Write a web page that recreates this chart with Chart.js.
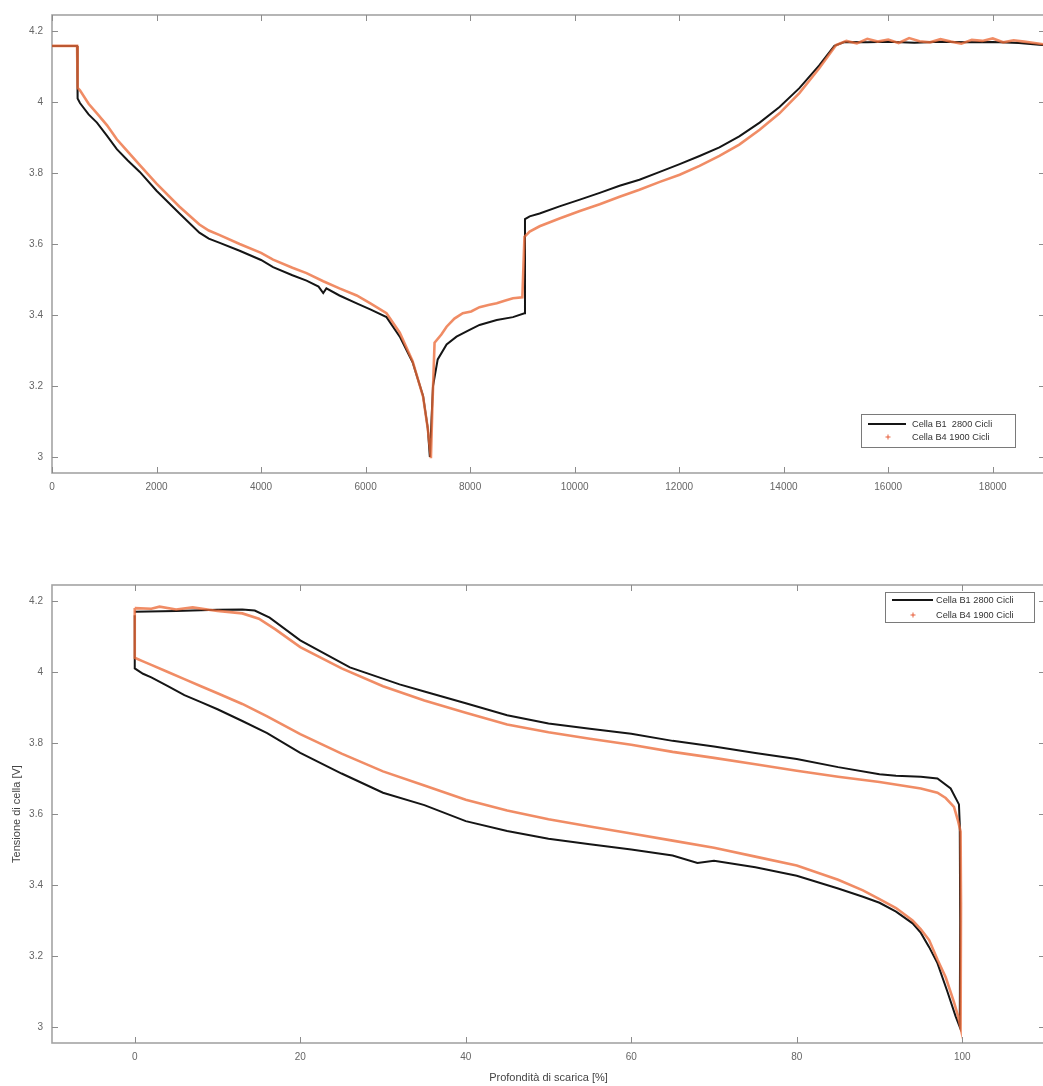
<!DOCTYPE html>
<html><head><meta charset="utf-8">
<script src="https://cdn.jsdelivr.net/npm/chart.js@4.4.1/dist/chart.umd.min.js"></script>
<style>
html,body{margin:0;padding:0;background:#fff;overflow:hidden;width:1043px;height:1086px;}
#w1{position:absolute;left:0;top:0;width:1050px;height:500px;}
#w2{position:absolute;left:0;top:570px;width:1050px;height:516px;}
</style></head><body>
<div id="w1"><canvas id="c1"></canvas></div>
<div id="w2"><canvas id="c2"></canvas></div>
<script>
// ---------- DATA: top chart (time [s] vs voltage [V]) ----------
const timeB1 = [0,480,490,535,700,860,1050,1240,1450,1680,2000,2440,2820,3000,3210,3590,4000,4230,4600,4870,5100,5190,5250,5500,5830,6100,6400,6654,6900,7100,7190,7230,7260,7290,7380,7550,7740,7990,8180,8510,8820,9040,9050,9140,9330,9710,10100,10480,10860,11240,11630,12010,12390,12770,13150,13540,13920,14300,14680,14970,15160,15600,16000,16500,17000,17500,18000,18500,19000];
const voltB1 = [4.158,4.158,4.01,3.997,3.965,3.942,3.905,3.867,3.835,3.803,3.75,3.686,3.632,3.615,3.603,3.581,3.555,3.535,3.512,3.497,3.48,3.462,3.475,3.455,3.433,3.415,3.394,3.339,3.267,3.172,3.081,3.0,3.1,3.2,3.275,3.317,3.339,3.358,3.372,3.386,3.394,3.405,3.67,3.678,3.686,3.706,3.725,3.744,3.764,3.781,3.803,3.825,3.848,3.872,3.903,3.942,3.986,4.039,4.103,4.158,4.169,4.168,4.17,4.167,4.17,4.168,4.169,4.166,4.16];
const timeB4 = [0,480,490,535,700,860,1050,1240,1450,1680,2000,2440,2820,3000,3210,3590,4000,4230,4600,4870,5190,5500,5830,6100,6400,6654,6900,7100,7190,7250,7280,7320,7450,7550,7700,7860,8020,8180,8350,8510,8660,8820,9000,9040,9140,9330,9710,10100,10480,10860,11240,11630,12010,12390,12770,13150,13540,13920,14300,14680,15000,15200,15400,15600,15800,16000,16200,16400,16600,16800,17000,17200,17400,17600,17800,18000,18200,18400,18600,18800,19000];
const voltB4 = [4.158,4.158,4.04,4.033,3.995,3.968,3.935,3.895,3.86,3.822,3.77,3.705,3.655,3.638,3.625,3.60,3.575,3.556,3.533,3.518,3.495,3.475,3.455,3.432,3.405,3.35,3.27,3.17,3.08,2.997,3.15,3.322,3.345,3.367,3.39,3.405,3.41,3.422,3.428,3.433,3.44,3.447,3.45,3.62,3.635,3.65,3.672,3.693,3.712,3.733,3.753,3.775,3.795,3.82,3.848,3.88,3.922,3.968,4.025,4.095,4.16,4.172,4.165,4.178,4.17,4.176,4.166,4.18,4.171,4.168,4.177,4.17,4.164,4.175,4.172,4.179,4.168,4.174,4.17,4.166,4.162];
const timeTicks = [0,2000,4000,6000,8000,10000,12000,14000,16000,18000];

// ---------- DATA: bottom chart (depth of discharge [%] vs voltage [V]) ----------
const dodB1 = [0,0,1,2,4,6,8,10,13,16,20,25,30,35,40,45,50,55,60,65,68,70,75,80,85,88,90,92,94,95,96,97,98.2,99.2,99.7,99.75,99.7,99.6,98.6,97,95,92,90,85,80,75,70,65,60,55,50,45,40,35,32,26,20,16.3,14.5,13,10,5,0];
const voltDodB1 = [4.16,4.01,3.995,3.985,3.96,3.935,3.915,3.895,3.862,3.828,3.772,3.714,3.66,3.625,3.58,3.552,3.53,3.515,3.50,3.483,3.462,3.468,3.45,3.426,3.39,3.367,3.35,3.325,3.292,3.265,3.225,3.18,3.10,3.03,3.0,3.3,3.57,3.627,3.672,3.70,3.705,3.708,3.712,3.732,3.755,3.772,3.79,3.806,3.826,3.84,3.855,3.878,3.912,3.945,3.965,4.013,4.089,4.153,4.173,4.176,4.175,4.172,4.17];
const dodB4 = [0,0,1,2,4,6,8,10,13,16,20,25,30,35,40,45,50,55,60,65,70,75,80,85,88,90,92,94,95,96,97,98,99,99.5,99.8,99.85,99.8,99.5,99,98,97,95,90,85,80,75,70,65,60,55,50,45,40,35,30,25,20,17,15,13,10,7,5,3,2,0];
const voltDodB4 = [4.18,4.04,4.03,4.02,4.0,3.98,3.96,3.94,3.91,3.875,3.825,3.77,3.72,3.68,3.64,3.61,3.585,3.565,3.545,3.525,3.505,3.48,3.455,3.415,3.385,3.36,3.335,3.30,3.275,3.245,3.19,3.14,3.07,3.03,2.998,3.35,3.55,3.58,3.62,3.645,3.66,3.672,3.69,3.705,3.722,3.74,3.758,3.775,3.795,3.812,3.83,3.852,3.885,3.92,3.96,4.01,4.07,4.12,4.15,4.165,4.172,4.182,4.176,4.184,4.178,4.18];
const dodTicks = [0,20,40,60,80,100];

const voltTicks = [3,3.2,3.4,3.6,3.8,4,4.2];
const legendTop = ['Cella B1  2800 Cicli','Cella B4 1900 Cicli'];
const legendBottom = ['Cella B1 2800 Cicli','Cella B4 1900 Cicli'];
const xTitleBottom = 'Profondità di scarica [%]';
const yTitleBottom = 'Tensione di cella [V]';

// ---------- helpers ----------
const zip = (xs, ys) => xs.map((x, i) => ({x: x, y: ys[i]}));
const BLACK = '#151515';
const ORANGE = 'rgba(236,108,58,0.78)';
const FONT = "'Liberation Sans', Arial, sans-serif";

const matlabAxes = {
  id: 'matlabAxes',
  beforeDatasetsDraw(chart) {
    const {ctx, chartArea: a, scales: {x, y}} = chart;
    ctx.save();
    ctx.strokeStyle = '#a4a4a4';
    ctx.lineWidth = 1.6;
    ctx.strokeRect(a.left, a.top, a.right - a.left, a.bottom - a.top);
    ctx.strokeStyle = '#8c8c8c';
    ctx.lineWidth = 1;
    const L = 6;
    const seg = (x1, y1, x2, y2) => { ctx.beginPath(); ctx.moveTo(x1, y1); ctx.lineTo(x2, y2); ctx.stroke(); };
    x.ticks.forEach(t => {
      const px = Math.round(x.getPixelForValue(t.value)) + 0.5;
      seg(px, a.bottom, px, a.bottom - L);
      seg(px, a.top, px, a.top + L);
    });
    y.ticks.forEach(t => {
      const py = Math.round(y.getPixelForValue(t.value)) + 0.5;
      seg(a.left, py, a.left + L, py);
      seg(a.right, py, a.right - L, py);
    });
    ctx.restore();
  }
};

const boxLegend = {
  id: 'boxLegend',
  afterDraw(chart, args, o) {
    const ctx = chart.ctx;
    const ds = chart.data.datasets;
    ctx.save();
    const [x1, y1, x2, y2] = o.box;
    ctx.fillStyle = '#fff';
    ctx.fillRect(x1, y1, x2 - x1, y2 - y1);
    ctx.strokeStyle = '#7a7a7a';
    ctx.lineWidth = 1;
    ctx.strokeRect(x1 + 0.5, y1 + 0.5, x2 - x1, y2 - y1);
    ctx.font = o.font + 'px ' + FONT;
    ctx.textBaseline = 'middle';
    ctx.fillStyle = '#333';
    // row 1: line sample
    ctx.strokeStyle = BLACK;
    ctx.lineWidth = 2.2;
    ctx.beginPath(); ctx.moveTo(o.line[0], o.rows[0]); ctx.lineTo(o.line[1], o.rows[0]); ctx.stroke();
    ctx.fillText(ds[0].label, o.text, o.rows[0] + 0.5);
    // row 2: '+' marker
    ctx.strokeStyle = 'rgba(230,80,40,0.9)';
    ctx.lineWidth = 1;
    const m = 2.5, cy = o.rows[1];
    ctx.beginPath(); ctx.moveTo(o.mark - m, cy); ctx.lineTo(o.mark + m, cy);
    ctx.moveTo(o.mark, cy - m); ctx.lineTo(o.mark, cy + m); ctx.stroke();
    ctx.fillText(ds[1].label, o.text, cy + 0.5);
    ctx.restore();
  }
};

function makeChart(id, cfg) {
  const tickFont = {family: FONT, size: 10};
  return new Chart(document.getElementById(id), {
    type: 'scatter',
    data: {
      datasets: [
        {label: cfg.labels[0], data: cfg.d1, showLine: true, borderColor: BLACK, backgroundColor: BLACK,
         borderWidth: 2, pointRadius: 0, tension: 0, order: 1},
        {label: cfg.labels[1], data: cfg.d2, showLine: true, borderColor: ORANGE, backgroundColor: ORANGE,
         borderWidth: 2.6, pointRadius: 0, tension: 0, order: 0}
      ]
    },
    plugins: [matlabAxes, boxLegend],
    options: {
      responsive: true, maintainAspectRatio: false, animation: false,
      layout: {padding: {top: 12, right: 5, left: 0, bottom: 0}},
      plugins: {legend: {display: false}, tooltip: {enabled: false}, boxLegend: cfg.legend},
      scales: {
        x: {
          type: 'linear', position: 'bottom', min: cfg.xmin, max: cfg.xmax,
          afterFit: s => { s.height = cfg.xh; },
          afterBuildTicks: s => { s.ticks = cfg.xticks.map(v => ({value: v})); },
          grid: {display: false, drawTicks: false}, border: {display: false},
          ticks: {padding: 8, color: '#666', font: tickFont, maxRotation: 0, autoSkip: false, callback: v => String(v)},
          title: cfg.xTitle ? {display: true, text: cfg.xTitle, color: '#444', font: {family: FONT, size: 11}, padding: {top: 0, bottom: 1}} : {display: false}
        },
        y: {
          type: 'linear', position: 'left', min: 2.955, max: 4.245,
          afterFit: s => { s.width = 52; },
          afterBuildTicks: s => { s.ticks = voltTicks.map(v => ({value: v})); },
          grid: {display: false, drawTicks: false}, border: {display: false},
          ticks: {padding: 9, color: '#666', font: tickFont, callback: v => String(v)},
          title: cfg.yTitle ? {display: true, text: cfg.yTitle, color: '#444', font: {family: FONT, size: 11}, padding: {top: 10, bottom: 0}} : {display: false}
        }
      }
    }
  });
}

makeChart('c1', {
  labels: legendTop, d1: zip(timeB1, voltB1), d2: zip(timeB4, voltB4),
  xmin: 0, xmax: 19000, xticks: timeTicks, xh: 27,
  legend: {box: [861, 414, 1015, 447], rows: [424, 437], line: [868, 906], mark: 888, text: 912, font: 9.2}
});
makeChart('c2', {
  labels: legendBottom, d1: zip(dodB1, voltDodB1), d2: zip(dodB4, voltDodB4),
  xmin: -10, xmax: 110, xticks: dodTicks, xh: 43,
  xTitle: xTitleBottom, yTitle: yTitleBottom,
  legend: {box: [885, 22, 1034, 52], rows: [30, 45], line: [892, 933], mark: 913, text: 936, font: 9.2}
});
</script>
</body></html>
